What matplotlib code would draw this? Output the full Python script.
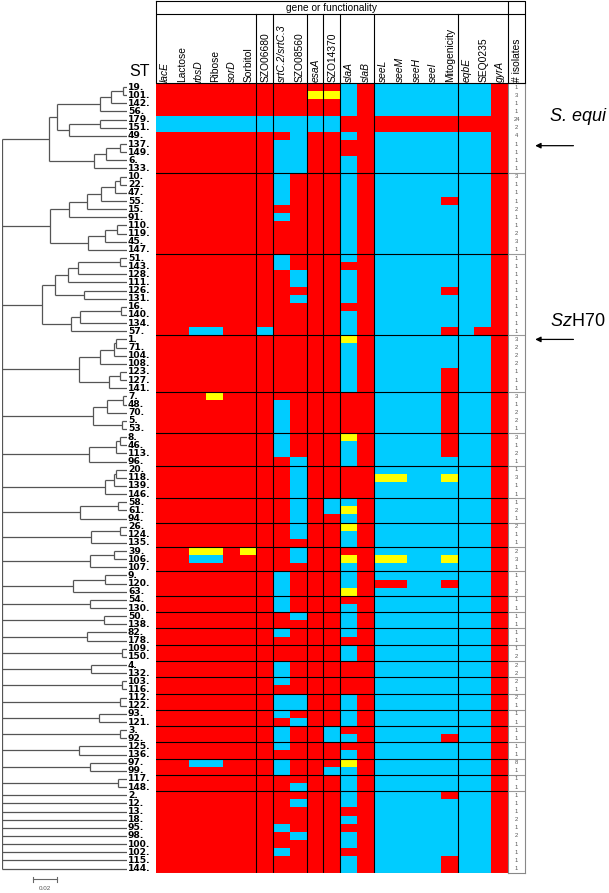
import matplotlib
matplotlib.use('Agg')
import matplotlib.pyplot as plt
from matplotlib.colors import ListedColormap
import numpy as np

plt.rcParams['font.family'] = 'Liberation Sans'
plt.rcParams['mathtext.fontset'] = 'custom'
plt.rcParams['mathtext.it'] = 'Liberation Sans:italic'
plt.rcParams['mathtext.rm'] = 'Liberation Sans'

# ---- data ----
features = ['lacE', 'Lactose', 'rbsD', 'Ribose', 'sorD', 'Sorbitol', 'SZO06680',
            'srtC.2/srtC.3', 'SZO08560', 'esaA', 'SZO14370', 'slaA', 'slaB',
            'seeL', 'seeM', 'seeH', 'seeI', 'Mitogenicity', 'eqbE', 'SEQ0235', 'gyrA']
italic = {'lacE', 'rbsD', 'sorD', 'srtC.2/srtC.3', 'esaA', 'slaA', 'slaB',
          'seeL', 'seeM', 'seeH', 'seeI', 'eqbE', 'gyrA'}
group_breaks = [6, 7, 9, 10, 11, 13, 18]

st = ['19', '101', '142', '56', '179', '151', '49', '137', '149', '6', '133',
      '10', '22', '47', '55', '15', '91', '110', '119', '45', '147',
      '51', '143', '128', '111', '126', '131', '16', '140', '134', '57',
      '1', '71', '104', '108', '123', '127', '141',
      '7', '48', '70', '5', '53',
      '8', '46', '113', '96',
      '20', '118', '139', '146',
      '58', '61', '94',
      '26', '124', '135',
      '39', '106', '107',
      '9', '120', '63',
      '54', '130', '50', '138', '82', '178', '109', '150', '4', '132', '103', '116',
      '112', '122', '93', '121', '3', '92', '125', '136', '97', '99', '117', '148',
      '2', '12', '13', '18', '95', '98', '100', '102', '115', '144']

# R = absent / negative, B = present, Y = variant ; spaces only separate column groups
profile = [
    'RRRRRR R RR R R BR BBBBB BBR',  # 19
    'RRRRRR R RR Y Y BR BBBBB BBR',  # 101
    'RRRRRR R RR R R BR BBBBB BBR',  # 142
    'RRRRRR R RR R R BR BBBBB BBR',  # 56
    'BBBBBB B BB B B RR RRRRR RRR',  # 179
    'BBBBBB B BB B B RR RRRRR RRR',  # 151
    'RRRRRR R RB R R BR BBBBB BBR',  # 49
    'RRRRRR R BB R R RR BBBBB BBR',  # 137
    'RRRRRR R BB R R RR BBBBB BBR',  # 149
    'RRRRRR R BB R R BR BBBBB BBR',  # 6
    'RRRRRR R BB R R BR BBBBB BBR',  # 133
    'RRRRRR R BR R R BR BBBBB BBR',  # 10
    'RRRRRR R BR R R BR BBBBB BBR',  # 22
    'RRRRRR R BR R R BR BBBBB BBR',  # 47
    'RRRRRR R BR R R BR BBBBR BBR',  # 55
    'RRRRRR R RR R R BR BBBBB BBR',  # 15
    'RRRRRR R BR R R BR BBBBB BBR',  # 91
    'RRRRRR R RR R R BR BBBBB BBR',  # 110
    'RRRRRR R RR R R BR BBBBB BBR',  # 119
    'RRRRRR R RR R R BR BBBBB BBR',  # 45
    'RRRRRR R RR R R BR BBBBB BBR',  # 147
    'RRRRRR R BR R R BR BBBBB BBR',  # 51
    'RRRRRR R BR R R RR BBBBB BBR',  # 143
    'RRRRRR R RB R R BR BBBBB BBR',  # 128
    'RRRRRR R RB R R BR BBBBB BBR',  # 111
    'RRRRRR R RR R R BR BBBBR BBR',  # 126
    'RRRRRR R RB R R BR BBBBB BBR',  # 131
    'RRRRRR R RR R R RR BBBBB BBR',  # 16
    'RRRRRR R RR R R BR BBBBB BBR',  # 140
    'RRRRRR R RR R R BR BBBBB BBR',  # 134
    'RRBBRR B RR R R BR BBBBR BRR',  # 57
    'RRRRRR R RR R R YR BBBBB BBR',  # 1
    'RRRRRR R RR R R BR BBBBB BBR',  # 71
    'RRRRRR R RR R R BR BBBBB BBR',  # 104
    'RRRRRR R RR R R BR BBBBB BBR',  # 108
    'RRRRRR R RR R R BR BBBBR BBR',  # 123
    'RRRRRR R RR R R BR BBBBR BBR',  # 127
    'RRRRRR R RR R R BR BBBBR BBR',  # 141
    'RRRYRR R RR R R RR BBBBR BBR',  # 7
    'RRRRRR R BR R R RR BBBBR BBR',  # 48
    'RRRRRR R BR R R RR BBBBR BBR',  # 70
    'RRRRRR R BR R R RR BBBBR BBR',  # 5
    'RRRRRR R BR R R RR BBBBR BBR',  # 53
    'RRRRRR R BR R R YR BBBBR BBR',  # 8
    'RRRRRR R BR R R BR BBBBR BBR',  # 46
    'RRRRRR R BR R R BR BBBBR BBR',  # 113
    'RRRRRR R RB R R BR BBBBB BBR',  # 96
    'RRRRRR R RB R R RR BBBBB BBR',  # 20
    'RRRRRR R RB R R RR YYBBY BBR',  # 118
    'RRRRRR R RB R R RR BBBBB BBR',  # 139
    'RRRRRR R RB R R RR BBBBB BBR',  # 146
    'RRRRRR R RB R B BR BBBBB BBR',  # 58
    'RRRRRR R RB R B YR BBBBB BBR',  # 61
    'RRRRRR R RB R R BR BBBBB BBR',  # 94
    'RRRRRR R RB R R YR BBBBB BBR',  # 26
    'RRRRRR R RB R R BR BBBBB BBR',  # 124
    'RRRRRR R RR R R BR BBBBB BBR',  # 135
    'RRYYRY R RB R R RR BBBBB BBR',  # 39
    'RRBBRR R RB R R YR YYBBY BBR',  # 106
    'RRRRRR R RR R R BR BBBBB BBR',  # 107
    'RRRRRR R BR R R BR BBBBB BBR',  # 9
    'RRRRRR R BR R R BR RRBBR BBR',  # 120
    'RRRRRR R BR R R YR BBBBB BBR',  # 63
    'RRRRRR R BR R R RR BBBBB BBR',  # 54
    'RRRRRR R BR R R BR BBBBB BBR',  # 130
    'RRRRRR R RB R R BR BBBBB BBR',  # 50
    'RRRRRR R RR R R BR BBBBB BBR',  # 138
    'RRRRRR R BR R R BR BBBBB BBR',  # 82
    'RRRRRR R RR R R RR BBBBB BBR',  # 178
    'RRRRRR R RR R R BR BBBBB BBR',  # 109
    'RRRRRR R RR R R BR BBBBB BBR',  # 150
    'RRRRRR R BR R R RR BBBBB BBR',  # 4
    'RRRRRR R BR R R RR BBBBB BBR',  # 132
    'RRRRRR R BR R R RR BBBBB BBR',  # 103
    'RRRRRR R RR R R RR BBBBB BBR',  # 116
    'RRRRRR R BB R R BR BBBBB BBR',  # 112
    'RRRRRR R BB R R BR BBBBB BBR',  # 122
    'RRRRRR R BR R R BR BBBBB BBR',  # 93
    'RRRRRR R RB R R BR BBBBB BBR',  # 121
    'RRRRRR R BR R B RR BBBBB BBR',  # 3
    'RRRRRR R BR R B BR BBBBR BBR',  # 92
    'RRRRRR R BR R R RR BBBBB BBR',  # 125
    'RRRRRR R RR R R BR BBBBB BBR',  # 136
    'RRBBRR R BR R R YR BBBBB BBR',  # 97
    'RRRRRR R BR R B BR BBBBB BBR',  # 99
    'RRRRRR R RR R R BR BBBBB BBR',  # 117
    'RRRRRR R RB R R BR BBBBB BBR',  # 148
    'RRRRRR R RR R R BR BBBBR BBR',  # 2
    'RRRRRR R RB R R BR BBBBB BBR',  # 12
    'RRRRRR R RR R R RR BBBBB BBR',  # 13
    'RRRRRR R RR R R BR BBBBB BBR',  # 18
    'RRRRRR R BR R R RR BBBBB BBR',  # 95
    'RRRRRR R RB R R BR BBBBB BBR',  # 98
    'RRRRRR R RR R R BR BBBBB BBR',  # 100
    'RRRRRR R BR R R RR BBBBB BBR',  # 102
    'RRRRRR R RR R R BR BBBBR BBR',  # 115
    'RRRRRR R RR R R BR BBBBR BBR',  # 144
]

isolates = [1, 3, 1, 1, 24, 2, 4, 1, 1, 1, 1,
            3, 1, 1, 1, 2, 1, 1, 2, 3, 1,
            1, 1, 1, 1, 1, 1, 1, 1, 1, 1,
            3, 2, 2, 2, 1, 1, 1,
            3, 1, 2, 2, 1,
            3, 1, 2, 1,
            1, 3, 1, 1,
            1, 2, 1,
            2, 1, 1,
            2, 3, 1,
            1, 1, 2,
            1, 1, 1, 1, 1, 1, 1, 2, 2, 2, 2, 1, 2, 1, 1, 1, 1, 1, 1, 1, 8, 1, 1, 1,
            1, 1, 1, 2, 1, 2, 1, 1, 1, 1]

# dendrogram: [distance from root, children...]
tree = [0.0,
        [0.038,
         [0.045,
          [0.080, [0.089, [0.099, '19', '101'], '142'], '56'],
          [0.055, [0.080, '179', '151'], '49']],
         [0.075, [0.085, [0.096, '137', '149'], '6'], '133']],
        [0.039,
         [0.055, [0.069, [0.081, [0.092, [0.096, '10', '22'], '47'], '55'], '15'], '91'],
         [0.070, [0.084, [0.094, '110', '119'], '45'], '147']],
        [0.033,
         [0.043, [0.054, [0.062, [0.096, '51', '143'], '128'], '111'], [0.067, '126', '131']],
         [0.056, [0.064, [0.097, '16', '140'], '134'], '57']],
        [0.063, [0.080, [0.091, [0.093, '1', '71'], '104'], '108'],
         [0.087, [0.096, '123', '127'], '141']],
        [0.074, [0.086, [0.099, '7', '48'], '70'], [0.098, '5', '53']],
        [0.071, [0.093, [0.096, '8', '46'], '113'], '96'],
        [0.084, [0.091, [0.093, '20', '118'], '139'], '146'],
        [0.064, [0.095, '58', '61'], '94'],
        [0.073, [0.096, '26', '124'], '135'],
        [0.072, [0.091, '39', '106'], '107'],
        [0.058, [0.084, '9', '120'], '63'],
        [0.072, '54', '130'],
        [0.083, '50', '138'],
        [0.069, '82', '178'],
        [0.098, '109', '150'],
        [0.073, '4', '132'],
        [0.098, '103', '116'],
        [0.096, '112', '122'],
        [0.079, '93', '121'],
        [0.096, '3', '92'],
        [0.063, '125', '136'],
        [0.072, '97', '99'],
        [0.095, '117', '148'],
        '2', '12', '13', '18', '95', '98', '100', '102', '115', '144']
LEAF_DEPTH = 0.102

RED, CYAN, YELLOW = '#FF0000', '#00CCFF', '#FFFF00'

# ---- layout (pixels) ----
W, H = 609, 893
HM_L, HM_R, HM_T, HM_B = 155.7, 508, 83, 872.6
ISO_R = 525
TREE_L, TREE_R = 2, 127
HDR_T, HDR_MID = 1, 14

fig = plt.figure(figsize=(W / 100, H / 100), dpi=100)


def px_axes(left, top, right, bottom):
    return fig.add_axes([left / W, 1 - bottom / H, (right - left) / W, (bottom - top) / H])


nrow, ncol = len(st), len(features)
row_of = {s: i + 0.5 for i, s in enumerate(st)}


def leaves(node):
    if isinstance(node, str):
        return [node]
    out = []
    for ch in node[1:]:
        out += leaves(ch)
    return out


cluster_ends = [max(st.index(s) for s in leaves(ch)) + 1
                for ch in tree[1:] if not isinstance(ch, str)]

# heatmap
ax_h = px_axes(HM_L, HM_T, HM_R, HM_B)
codes = np.array([['RBY'.index(c) for c in p.replace(' ', '')] for p in profile])
ax_h.pcolormesh(np.arange(ncol + 1), np.arange(nrow + 1), codes,
                cmap=ListedColormap([RED, CYAN, YELLOW]), vmin=-0.5, vmax=2.5,
                shading='flat', snap=True)
ax_h.set_xlim(0, ncol)
ax_h.set_ylim(nrow, 0)
ax_h.axis('off')
for b in group_breaks:
    ax_h.axvline(b, color='k', lw=0.8)
for r in cluster_ends:
    ax_h.axhline(r, color='k', lw=0.8)
ax_h.axhline(nrow, color='#888888', lw=0.8)

# isolates column
ax_n = px_axes(HM_R, HM_T, ISO_R, HM_B)
ax_n.set_xlim(0, 1)
ax_n.set_ylim(nrow, 0)
ax_n.set_xticks([])
ax_n.set_yticks([])
for sp in ax_n.spines.values():
    sp.set_color('#888888')
    sp.set_linewidth(0.8)
for i, n in enumerate(isolates):
    ax_n.text(0.5, i + 0.5, str(n), ha='center', va='center', fontsize=4.2, color='#555555')
for r in cluster_ends:
    ax_n.axhline(r, color='#999999', lw=0.8)

# header
col_w = (HM_R - HM_L) / ncol
iso_w = (ISO_R - HM_R) / col_w
ax_hd = px_axes(HM_L, HDR_T, ISO_R, HM_T)
ax_hd.set_xlim(0, ncol + iso_w)
ax_hd.set_ylim(HM_T, HDR_T)
ax_hd.axis('off')
xr = ncol + iso_w
ax_hd.plot([0, xr, xr, 0, 0], [HDR_T, HDR_T, HM_T, HM_T, HDR_T], color='k', lw=0.8, clip_on=False)
ax_hd.plot([0, xr], [HDR_MID, HDR_MID], color='k', lw=0.8)
for b in group_breaks:
    ax_hd.plot([b, b], [HDR_MID, HM_T], color='k', lw=0.8)
ax_hd.plot([ncol, ncol], [HDR_T, HM_T], color='k', lw=0.8)
ax_hd.text(ncol / 2, (HDR_T + HDR_MID) / 2 + 0.5, 'gene or functionality',
           ha='center', va='center', fontsize=7.3)
for c, name in enumerate(features):
    ax_hd.text(c + 0.55, HM_T - 1.5, name, rotation=90, ha='center', va='bottom',
               fontsize=7.4, fontstyle='italic' if name in italic else 'normal')
ax_hd.text(ncol + iso_w / 2, HM_T - 1.5, '# isolates', rotation=90, ha='center',
           va='bottom', fontsize=7.4)

# dendrogram
ax_t = px_axes(TREE_L, HM_T, TREE_R, HM_B)
ax_t.set_xlim(0, LEAF_DEPTH)
ax_t.set_ylim(nrow, 0)
ax_t.axis('off')
TREE_COLOR = '#555555'


def draw(node):
    if isinstance(node, str):
        return row_of[node], LEAF_DEPTH
    d = node[0]
    ys = []
    for ch in node[1:]:
        y, cd = draw(ch)
        ax_t.plot([d, cd], [y, y], color=TREE_COLOR, lw=0.9, solid_capstyle='butt')
        ys.append(y)
    ax_t.plot([d, d], [min(ys), max(ys)], color=TREE_COLOR, lw=0.9, solid_capstyle='butt')
    return (min(ys) + max(ys)) / 2, d


draw(tree)

for i, s in enumerate(st):
    ax_t.text(LEAF_DEPTH + 0.0008, i + 0.5, s + '.', ha='left', va='center',
              fontsize=6.6, fontweight='bold', family='DejaVu Sans', clip_on=False)

ax_t.text(0.112, -1.4, 'ST', ha='center', va='center', fontsize=11.5, clip_on=False)

# scale bar
sb0, sb_len, sb_y = 0.025, 0.02, nrow + 0.8
ax_t.plot([sb0, sb0 + sb_len], [sb_y, sb_y], color='#666666', lw=0.8, clip_on=False)
for xx in (sb0, sb0 + sb_len):
    ax_t.plot([xx, xx], [sb_y - 0.3, sb_y + 0.3], color='#666666', lw=0.8, clip_on=False)
ax_t.text(sb0 + sb_len / 2, sb_y + 1.1, '0.02', ha='center', va='center',
          fontsize=4.5, color='#555555', clip_on=False)

# annotations: (label, ST row pointed at, text offset in rows, arrow offset in rows)
notes = [('S. equi', '179', -0.4, 3.2), (r'$\mathit{Sz}$H70', '1', -2.2, 0.0)]
for label, s, dt, da in notes:
    y = row_of[s]
    ax_n.annotate('', xy=(1.6, y + da), xycoords=('axes fraction', 'data'),
                  xytext=(3.85, y + da), textcoords=('axes fraction', 'data'),
                  arrowprops=dict(arrowstyle='-|>', color='k', lw=0.9,
                                  mutation_scale=8, shrinkA=0, shrinkB=0),
                  annotation_clip=False)
    ax_n.text(4.1, y + dt, label, ha='center', va='center', fontsize=13,
              fontstyle='italic' if label.startswith('S.') else 'normal', clip_on=False)

fig.savefig('out.png', dpi=100, facecolor='white')
